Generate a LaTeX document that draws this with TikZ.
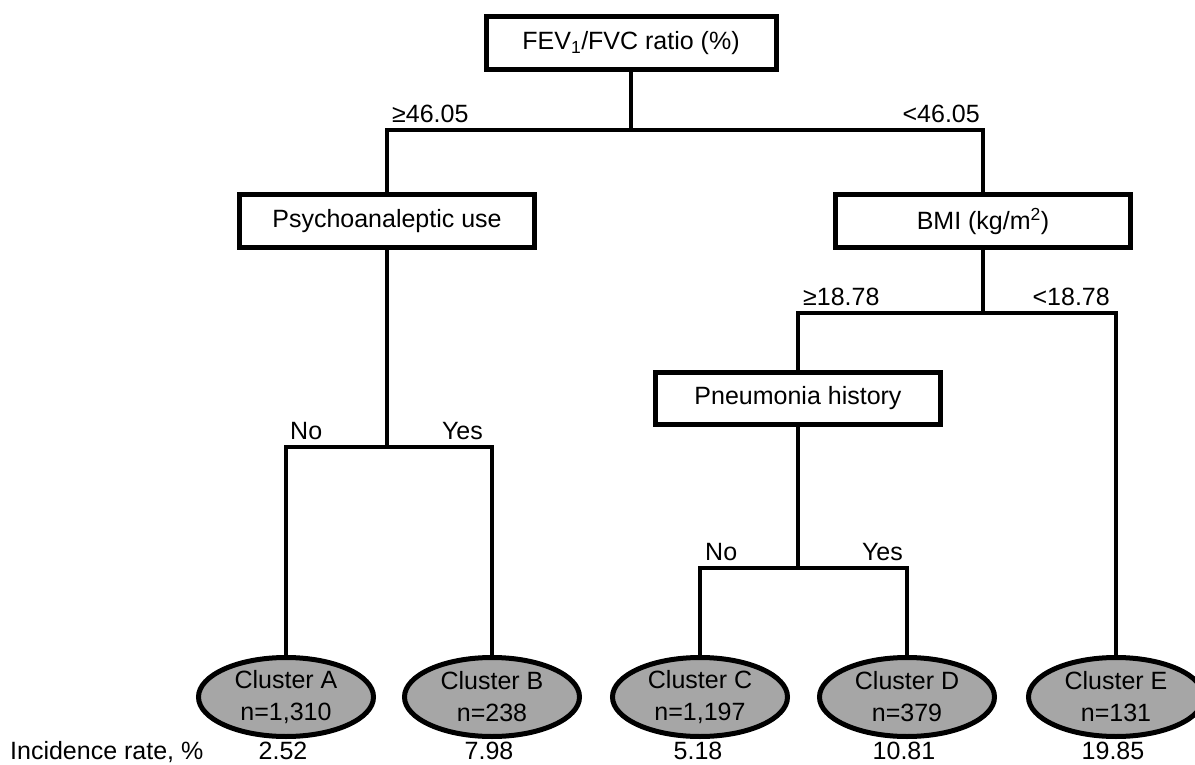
\documentclass[tikz,border=0pt]{standalone}
\usepackage{fontspec}
\setmainfont{Liberation Sans}
\usetikzlibrary{shapes.geometric}
\definecolor{cgray}{RGB}{166,166,166}
\begin{document}
\begin{tikzpicture}[x=1pt,y=-1pt,
  box/.style={draw, line width=5pt, minimum width=295pt, minimum height=53pt, inner sep=0pt, font=\fontsize{25}{30}\selectfont},
  clus/.style={ellipse, draw, line width=5pt, fill=cgray, minimum width=175pt, minimum height=79pt, inner sep=0pt, align=center, font=\fontsize{25}{32}\selectfont},
  conn/.style={line width=4pt},
  lab/.style={inner sep=0pt, font=\fontsize{25}{30}\selectfont}]
\useasboundingbox (0,0) rectangle (1195,765);
\clip (0,0) rectangle (1195,765);
% decision boxes
\node[box, minimum width=290pt] (fev) at (631,43) {FEV\textsubscript{1}/FVC ratio (\%)};
\node[box] (psy) at (387,221) {Psychoanaleptic use};
\node[box] (bmi) at (983,221) {BMI (kg/m\textsuperscript{2})};
\node[box, minimum width=285pt, minimum height=52pt] (pne) at (798,398.5) {Pneumonia history};
% clusters
\node[clus] (ca) at (286,697) {Cluster A\\n=1,310};
\node[clus] (cb) at (492,697) {Cluster B\\n=238};
\node[clus] (cc) at (700,697) {Cluster C\\n=1,197};
\node[clus] (cd) at (907,697) {Cluster D\\n=379};
\node[clus] (ce) at (1116,697) {Cluster E\\n=131};
% junctions
\coordinate (j1) at (631,130);
\coordinate (j2) at (387,447);
\coordinate (j3) at (983,313);
\coordinate (j4) at (798,568);
% connectors
\draw[conn] (fev.south) -- (j1);
\draw[conn] (psy.north) -- (psy.north |- j1) -- (bmi.north |- j1) -- (bmi.north);
\draw[conn] (psy.south) -- (j2);
\draw[conn] (ca.north) -- (ca.north |- j2) -- (cb.north |- j2) -- (cb.north);
\draw[conn] (bmi.south) -- (j3);
\draw[conn] (pne.north) -- (pne.north |- j3) -- (ce.north |- j3) -- (ce.north);
\draw[conn] (pne.south) -- (j4);
\draw[conn] (cc.north) -- (cc.north |- j4) -- (cd.north |- j4) -- (cd.north);
% branch labels
\node[lab, anchor=base west] (l1) at (392,123) {≥46.05};
\node[lab, anchor=base east] (l2) at (980,123) {<46.05};
\node[lab, anchor=base west] (l3) at (803,305) {≥18.78};
\node[lab, anchor=base east] (l4) at (1110,305) {<18.78};
\node[lab, anchor=base west] (l5) at (290,439) {No};
\node[lab, anchor=base east] (l6) at (483,439) {Yes};
\node[lab, anchor=base west] (l7) at (705,560) {No};
\node[lab, anchor=base east] (l8) at (903,560) {Yes};
% incidence row
\node[lab, anchor=base west] (inc) at (10,759) {Incidence rate, \%};
\node[lab, anchor=base] (ra) at (283,759) {2.52};
\node[lab, anchor=base] (rb) at (489,759) {7.98};
\node[lab, anchor=base] (rc) at (698,759) {5.18};
\node[lab, anchor=base] (rd) at (904,759) {10.81};
\node[lab, anchor=base] (re) at (1113,759) {19.85};
\end{tikzpicture}
\end{document}
